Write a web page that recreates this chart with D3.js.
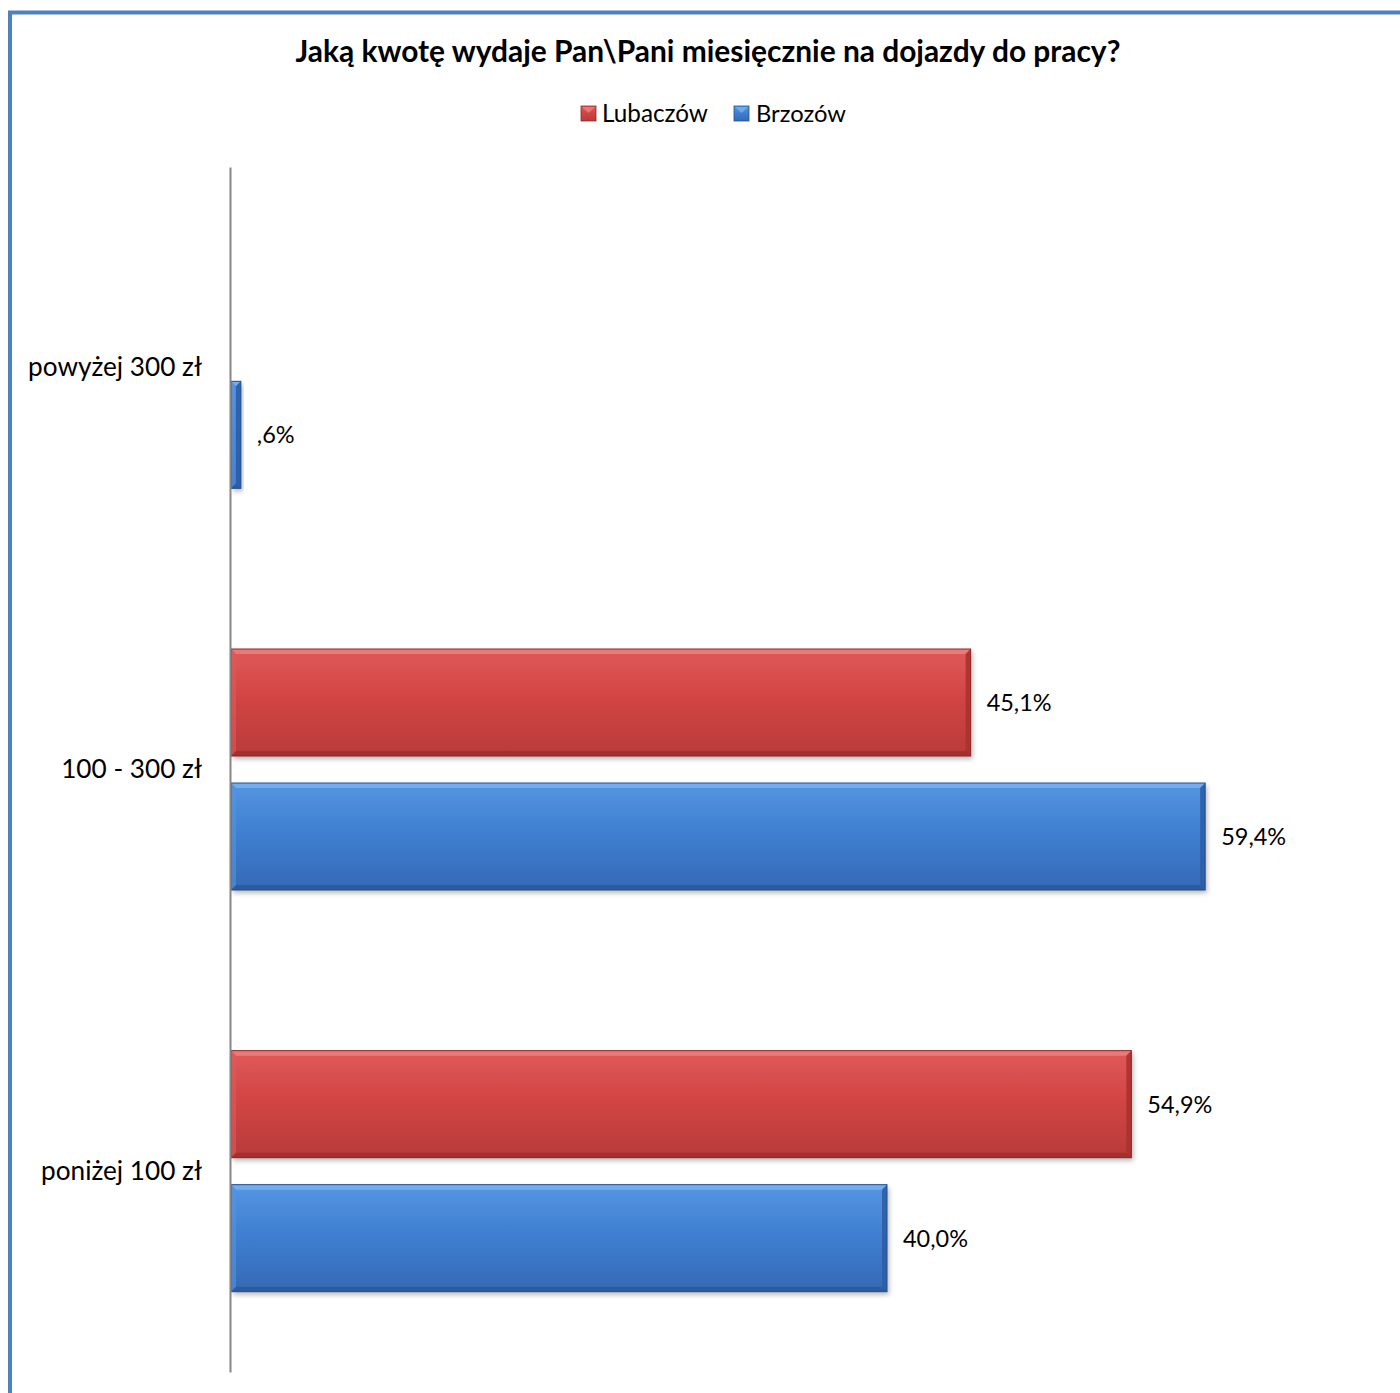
<!DOCTYPE html>
<html><head><meta charset="utf-8">
<script src="https://cdn.jsdelivr.net/npm/d3@7"></script>
<style>body{margin:0;background:#fff}svg{display:block}</style>
</head><body>
<svg id="chart" width="1400" height="1393"></svg>
<script>
const title = "Jaką kwotę wydaje Pan\\Pani miesięcznie na dojazdy do pracy?";
const categories = ["powyżej 300 zł", "100 - 300 zł", "poniżej 100 zł"];
const seriesNames = ["Lubaczów", "Brzozów"];
const lubaczow = [null, 45.1, 54.9];
const brzozow = [0.6, 59.4, 40.0];
const xMax = 70;

const FONT = "Lato, 'Open Sans', sans-serif";
const svg = d3.select("#chart");
const defs = svg.append("defs");

const palette = {
  "Lubaczów": {top:"#e05a5a", main:"#d24544", bottom:"#b83b39", light:"#ea8080", dark:"#8e2826", right:"#a83230"},
  "Brzozów": {top:"#5595e0", main:"#3f80d2", bottom:"#3569b5", light:"#78b2f0", dark:"#25508d", right:"#2d5ea6"}
};
Object.entries(palette).forEach(([k,c],i)=>{
  const g = defs.append("linearGradient").attr("id","g"+i).attr("x1",0).attr("x2",0).attr("y1",0).attr("y2",1);
  g.append("stop").attr("offset","0%").attr("stop-color",c.top);
  g.append("stop").attr("offset","45%").attr("stop-color",c.main);
  g.append("stop").attr("offset","100%").attr("stop-color",c.bottom);
  c.grad = "url(#g"+i+")";
});
const f = defs.append("filter").attr("id","sh").attr("x","-5%").attr("y","-20%").attr("width","110%").attr("height","150%");
f.append("feGaussianBlur").attr("stdDeviation",2.5);

// border
svg.append("rect").attr("x",10).attr("y",12.5).attr("width",1400).attr("height",1400)
  .attr("fill","none").attr("stroke","#4f81bd").attr("stroke-width",4);

// title
const t = svg.append("text").attr("x",708).attr("y",62).attr("text-anchor","middle")
  .attr("font-family",FONT).attr("font-weight","bold").attr("font-size",24).attr("fill","#000").text(title);
{ const w = t.node().getComputedTextLength(); t.attr("font-size", 24*825/w); }

// legend
const legItems = [{name:seriesNames[0], x:581, tx:602},{name:seriesNames[1], x:734, tx:756}];
legItems.forEach((d,i)=>{
  const c = palette[d.name];
  const g = svg.append("g");
  g.append("rect").attr("x",d.x).attr("y",106).attr("width",15).attr("height",15).attr("fill",c.grad).attr("stroke",c.dark).attr("stroke-width",0.8);
  g.append("path").attr("d",`M${d.x+1},${107}L${d.x+14},${107}L${d.x+7.5},${113}Z`).attr("fill",c.light).attr("opacity",0.8);
  const tt = g.append("text").attr("x",d.tx).attr("y",122).attr("font-family",FONT).attr("font-size",22).attr("fill","#000").text(d.name);
  const target = i===0 ? 106 : 90;
  const w = tt.node().getComputedTextLength(); tt.attr("font-size", 22*target/w);
});

// scales
const x = d3.scaleLinear().domain([0,xMax]).range([231, 231 + 16.4*xMax]);
const y = d3.scaleBand().domain(categories).range([167,1372]).paddingInner(0.4).paddingOuter(0.2);
const ys = d3.scaleBand().domain(seriesNames).range([0,y.bandwidth()]).paddingInner(27/134);

const data = [];
categories.forEach((c,i)=>{
  [lubaczow[i], brzozow[i]].forEach((v,j)=>{
    if (v !== null && v !== undefined) data.push({cat:c, series:seriesNames[j], value:v});
  });
});

const fmt = v => { let s = v.toFixed(1).replace(".",","); if (s.startsWith("0,")) s = s.slice(1); return s+"%"; };

// measure label font size
const probe = svg.append("text").attr("font-family",FONT).attr("font-size",22).text("45,1%");
const labelSize = 22*65/probe.node().getComputedTextLength();
probe.text(categories[0]);
const catSize = 22*174/probe.node().getComputedTextLength();
probe.remove();

const bars = svg.append("g");
data.forEach(d=>{
  const c = palette[d.series];
  const x0 = x(0), x1 = x(d.value), y0 = y(d.cat)+ys(d.series), h = ys.bandwidth(), y1 = y0+h;
  const w = x1-x0;
  const b = Math.min(5, w/2);
  const g = bars.append("g");
  g.append("rect").attr("x",x0+2).attr("y",y0+3).attr("width",w).attr("height",h).attr("fill","#000").attr("opacity",0.28).attr("filter","url(#sh)");
  g.append("rect").attr("x",x0).attr("y",y0).attr("width",w).attr("height",h).attr("fill",c.grad);
  g.append("path").attr("d",`M${x0},${y0}L${x1},${y0}L${x1-b},${y0+b}L${x0+b},${y0+b}Z`).attr("fill",c.light).attr("opacity",0.85);
  g.append("path").attr("d",`M${x0},${y0}L${x0+b},${y0+b}L${x0+b},${y1-b}L${x0},${y1}Z`).attr("fill",c.top).attr("opacity",0.6);
  g.append("path").attr("d",`M${x1},${y0}L${x1},${y1}L${x1-b},${y1-b}L${x1-b},${y0+b}Z`).attr("fill",c.right).attr("opacity",0.9);
  g.append("path").attr("d",`M${x0},${y1}L${x1},${y1}L${x1-b},${y1-b}L${x0+b},${y1-b}Z`).attr("fill",c.dark).attr("opacity",0.55);
  g.append("rect").attr("x",x0).attr("y",y0).attr("width",w).attr("height",h).attr("fill","none").attr("stroke",c.dark).attr("stroke-width",1);
  svg.append("text").attr("x",x1+16).attr("y",y0+h/2).attr("dy","0.36em")
    .attr("font-family",FONT).attr("font-size",labelSize).attr("fill","#000").text(fmt(d.value));
});

// axis
const yAxis = d3.axisLeft(y).tickSize(0).tickPadding(28);
const ag = svg.append("g").attr("transform","translate(230,0)").call(yAxis);
ag.select(".domain").attr("stroke","#868686").attr("stroke-width",2);
ag.selectAll("text").attr("font-family",FONT).attr("font-size",catSize).attr("fill","#000");
</script>
</body></html>
